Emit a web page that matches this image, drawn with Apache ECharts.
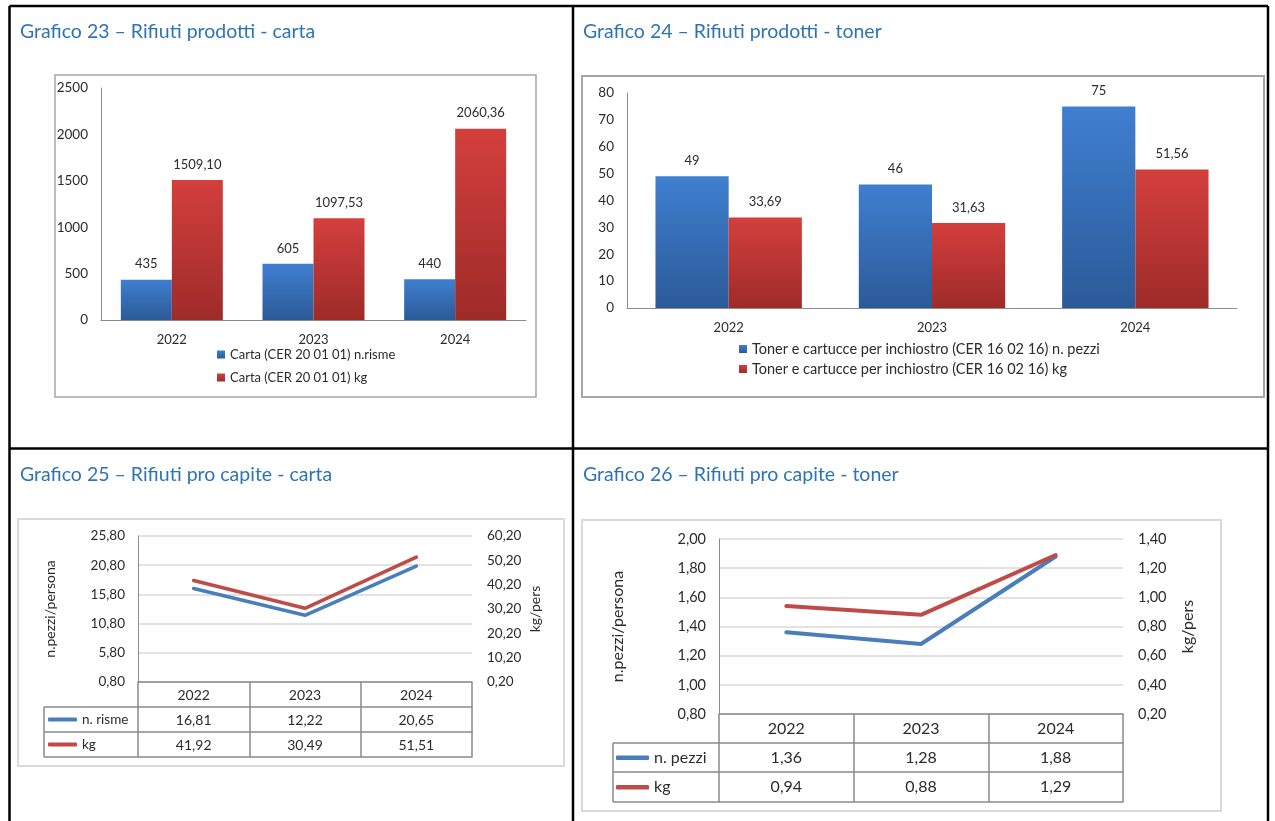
<!DOCTYPE html>
<html>
<head>
<meta charset="utf-8">
<title>Rifiuti prodotti e pro capite</title>
<script src="https://cdn.jsdelivr.net/npm/echarts@6/dist/echarts.min.js"></script>
<style>
  html, body { margin: 0; padding: 0; background: #ffffff; }
  #c { width: 1275px; height: 821px; }
</style>
</head>
<body>
<div id="c"></div>
<script>
// ---- data ----
const years = ['2022', '2023', '2024'];

// Grafico 23 – Rifiuti prodotti - carta
const cartaRisme = [435, 605, 440];
const cartaKg = [1509.10, 1097.53, 2060.36];

// Grafico 24 – Rifiuti prodotti - toner
const tonerPezzi = [49, 46, 75];
const tonerKg = [33.69, 31.63, 51.56];

// Grafico 25 – Rifiuti pro capite - carta
const rismePerCapite = [16.81, 12.22, 20.65];
const cartaKgPerCapite = [41.92, 30.49, 51.51];

// Grafico 26 – Rifiuti pro capite - toner
const pezziPerCapite = [1.36, 1.28, 1.88];
const tonerKgPerCapite = [0.94, 0.88, 1.29];

const titles = [
  'Grafico 23 – Rifiuti prodotti - carta',
  'Grafico 24 – Rifiuti prodotti - toner',
  'Grafico 25 – Rifiuti pro capite - carta',
  'Grafico 26 – Rifiuti pro capite - toner'
];
const legend23 = ['Carta (CER 20 01 01) n.risme', 'Carta (CER 20 01 01) kg'];
const legend24 = ['Toner e cartucce per inchiostro (CER 16 02 16) n. pezzi',
                  'Toner e cartucce per inchiostro (CER 16 02 16) kg'];
const rows25 = ['n. risme', 'kg'];
const rows26 = ['n. pezzi', 'kg'];
const axisNameLeft = 'n.pezzi/persona';
const axisNameRight = 'kg/pers';

// ---- styling helpers ----
const FONT = 'Lato, "Open Sans", sans-serif';
const TXT = '#2b2b2b';
const TITLE_COLOR = '#2E74B5';
const LINE_BLUE = '#4A7EBB';
const LINE_RED = '#BE4B48';
const TABLE = '#8a8a8a';
const comma2 = v => v.toFixed(2).replace('.', ',');
const grad = (top, bottom) => new echarts.graphic.LinearGradient(0, 0, 0, 1, [
  { offset: 0, color: top }, { offset: 1, color: bottom }
]);

const chart = echarts.init(document.getElementById('c'), null, { renderer: 'canvas' });

function barXAxis(gi, fs) {
  return {
    type: 'category', gridIndex: gi, data: years,
    axisLine: { lineStyle: { color: '#8c8c8c', width: 1 } },
    axisTick: { show: false },
    axisLabel: { color: TXT, fontFamily: FONT, fontSize: fs, margin: 13 }
  };
}
function barYAxis(gi, max, step, fs) {
  return {
    type: 'value', gridIndex: gi, min: 0, max: max, interval: step,
    axisLine: { show: true, lineStyle: { color: '#8c8c8c', width: 1 } },
    axisTick: { show: false },
    splitLine: { show: false },
    axisLabel: { color: TXT, fontFamily: FONT, fontSize: fs, margin: 13,
                 formatter: v => String(v) }
  };
}
// one data-table row drawn as a category axis: the axis line is the row's top
// border, the boundary ticks are the cell separators, the labels are the cells
function tableRow(gi, offset, labels, rowH, fs, last) {
  return {
    type: 'category', gridIndex: gi, position: 'bottom', offset: offset, data: labels,
    axisLine: { show: true, lineStyle: { color: TABLE, width: 1.5 } },
    axisTick: { show: !last, alignWithLabel: false, interval: 0, length: rowH,
                lineStyle: { color: TABLE, width: 1.5 } },
    axisLabel: { show: !last, interval: 0, color: TXT, fontFamily: FONT, fontSize: fs,
                 margin: Math.round((rowH - fs) / 2) },
    splitLine: { show: false }
  };
}
function lineYAxis(gi, pos, min, max, step, fs, name, gap, nfs, grid) {
  return {
    type: 'value', gridIndex: gi, position: pos, min: min, max: max, interval: step,
    name: name, nameLocation: 'middle', nameRotate: 90, nameGap: gap,
    nameTextStyle: { color: TXT, fontFamily: FONT, fontSize: nfs },
    axisLine: { show: pos === 'left', lineStyle: { color: '#8c8c8c', width: 1 } },
    axisTick: { show: false },
    splitLine: { show: grid, lineStyle: { color: '#d9d9d9', width: 1.5 } },
    axisLabel: { color: TXT, fontFamily: FONT, fontSize: fs, margin: pos === 'left' ? 13 : 15,
                 formatter: v => comma2(v) }
  };
}
function barSeries(name, data, xi, yi, color, fmt) {
  return {
    type: 'bar', name: name, data: data, xAxisIndex: xi, yAxisIndex: yi,
    barGap: '0%', barCategoryGap: '28%',
    itemStyle: { color: color },
    label: { show: true, position: 'top', distance: 9, color: TXT, fontFamily: FONT,
             fontSize: 13, formatter: p => fmt(p.value) }
  };
}
function lineSeries(name, data, xi, yi, color, w) {
  return {
    type: 'line', name: name, data: data, xAxisIndex: xi, yAxisIndex: yi,
    symbol: 'none', lineStyle: { color: color, width: w, cap: 'round', join: 'round' },
    itemStyle: { color: color }
  };
}
function line(x1, y1, x2, y2, stroke, w) {
  return { type: 'line', silent: true, shape: { x1, y1, x2, y2 }, style: { stroke, lineWidth: w } };
}
function box(x, y, w, h, stroke, lw) {
  return { type: 'rect', silent: true, z: -10, shape: { x, y, width: w, height: h },
           style: { fill: 'none', stroke, lineWidth: lw } };
}
const titleAt = (text, left, top) => ({
  text, left, top, padding: 0,
  textStyle: { color: TITLE_COLOR, fontFamily: FONT, fontSize: 19.5, fontWeight: 'normal' }
});
const legendAt = (data, left, top, rowH, fs, icon, w, h) => ({
  data, left, top, orient: 'vertical', padding: 0, itemGap: 0,
  icon, itemWidth: w, itemHeight: h, selectedMode: false,
  textStyle: { color: TXT, fontFamily: FONT, fontSize: fs, lineHeight: rowH }
});

const option = {
  animation: false,
  title: [
    titleAt(titles[0], 20, 22),
    titleAt(titles[1], 583, 22),
    titleAt(titles[2], 20, 465),
    titleAt(titles[3], 583, 465)
  ],
  legend: [
    legendAt(legend23, 217, 343, 23, 13, 'rect', 8, 8),
    legendAt(legend24, 739, 339, 20, 14.5, 'rect', 8, 8),
    legendAt(rows25, 48, 707, 25, 13.5, 'roundRect', 29, 4),
    legendAt(rows26, 616, 743, 29.5, 16, 'roundRect', 33, 4.5)
  ],
  grid: [
    { left: 101, top: 88, width: 425, height: 232 },
    { left: 627, top: 93, width: 610, height: 215 },
    { left: 138, top: 536, width: 334, height: 146 },
    { left: 719, top: 539, width: 404, height: 175 }
  ],
  xAxis: [
    barXAxis(0, 13),
    barXAxis(1, 13),
    // Grafico 25 data table
    tableRow(2, 0, years, 25, 14, false),
    tableRow(2, 25, rismePerCapite.map(comma2), 25, 14, false),
    tableRow(2, 50, cartaKgPerCapite.map(comma2), 25, 14, false),
    tableRow(2, 75, years, 25, 14, true),
    // Grafico 26 data table
    tableRow(3, 0, years, 29, 16, false),
    tableRow(3, 29, pezziPerCapite.map(comma2), 29, 16, false),
    tableRow(3, 58, tonerKgPerCapite.map(comma2), 30, 16, false),
    tableRow(3, 88, years, 29, 16, true)
  ],
  yAxis: [
    barYAxis(0, 2500, 500, 13.5),
    barYAxis(1, 80, 10, 13.5),
    lineYAxis(2, 'left', 0.8, 25.8, 5, 13.5, axisNameLeft, 81, 14, true),
    lineYAxis(2, 'right', 0.2, 60.2, 10, 13.5, axisNameRight, 56, 14, false),
    lineYAxis(3, 'left', 0.8, 2.0, 0.2, 14.5, axisNameLeft, 93, 16, true),
    lineYAxis(3, 'right', 0.2, 1.4, 0.2, 14.5, axisNameRight, 57, 16, false)
  ],
  series: [
    barSeries(legend23[0], cartaRisme, 0, 0, grad('#3F7FD0', '#2B5A98'), v => String(v)),
    barSeries(legend23[1], cartaKg, 0, 0, grad('#D33F3D', '#9E2B29'), comma2),
    barSeries(legend24[0], tonerPezzi, 1, 1, grad('#3F7FD0', '#2B5A98'), v => String(v)),
    barSeries(legend24[1], tonerKg, 1, 1, grad('#D33F3D', '#9E2B29'), comma2),
    lineSeries(rows25[0], rismePerCapite, 2, 2, LINE_BLUE, 3.5),
    lineSeries(rows25[1], cartaKgPerCapite, 2, 3, LINE_RED, 3.5),
    lineSeries(rows26[0], pezziPerCapite, 6, 4, LINE_BLUE, 4),
    lineSeries(rows26[1], tonerKgPerCapite, 6, 5, LINE_RED, 4)
  ],
  graphic: [
    // page frame
    line(9.5, 6, 1268, 6, '#000', 2.5),
    line(9.5, 448.5, 1268, 448.5, '#000', 2.5),
    line(9.5, 6, 9.5, 821, '#000', 2.5),
    line(573, 6, 573, 821, '#000', 2.5),
    line(1268, 6, 1268, 821, '#000', 2.5),
    // chart areas
    box(55, 75, 481, 322, '#a6a6a6', 1.5),
    box(582, 76, 682, 321, '#a6a6a6', 2),
    box(18, 519, 546, 247, '#d9d9d9', 2),
    box(582, 520, 639, 291, '#d9d9d9', 2),
    // row-header cells of the data tables
    line(44, 707, 138, 707, TABLE, 1.5),
    line(44, 732, 138, 732, TABLE, 1.5),
    line(44, 757, 138, 757, TABLE, 1.5),
    line(44, 707, 44, 757, TABLE, 1.5),
    line(613, 743, 719, 743, TABLE, 1.5),
    line(613, 772, 719, 772, TABLE, 1.5),
    line(613, 802, 719, 802, TABLE, 1.5),
    line(613, 743, 613, 802, TABLE, 1.5)
  ]
};
chart.setOption(option);
</script>
</body>
</html>
